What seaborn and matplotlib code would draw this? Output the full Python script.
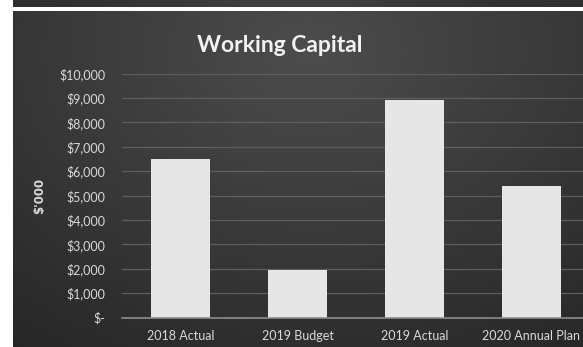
import numpy as np
import matplotlib
matplotlib.use("Agg")
import matplotlib.pyplot as plt
from matplotlib.ticker import FuncFormatter
import seaborn as sns

categories = ["2018 Actual", "2019 Budget", "2019 Actual", "2020 Annual Plan"]
values = [6500, 1950, 8900, 5400]
y_ticks = [0, 1000, 2000, 3000, 4000, 5000, 6000, 7000, 8000, 9000, 10000]

sns.set_theme(style="dark")
plt.rcParams["font.family"] = ["Lato", "DejaVu Sans"]

W, H = 583, 347
fig = plt.figure(figsize=(W / 100, H / 100), dpi=100, facecolor="white")

def box(x0, y0, x1, y1):
    # pixel box (top-left origin) to figure fraction rect
    return [x0 / W, 1 - y1 / H, (x1 - x0) / W, (y1 - y0) / H]

# dark radial-gradient panel behind the chart
bg = fig.add_axes(box(13, 11, W, H))
gx, gy = np.meshgrid(np.linspace(0, 1, 300), np.linspace(0, 1, 200))
r = np.sqrt(((gx - 0.52) / 1.0) ** 2 + ((gy - 0.12) / 1.25) ** 2)
shade = np.clip(0.30 - 0.17 * r, 0.14, 0.30)
bg.imshow(np.dstack([shade] * 3), aspect="auto", extent=(0, 1, 1, 0))
bg.set_axis_off()

# thin dark strip along the top
top = fig.add_axes(box(13, 0, W, 7))
tx = np.linspace(0, 1, 300)
tshade = 0.17 + 0.08 * np.exp(-((tx - 0.5) / 0.35) ** 2)
top.imshow(np.dstack([np.tile(tshade, (5, 1))] * 3), aspect="auto")
top.set_axis_off()

# plot area
spacing = 117.0
x_left = 122
ax = fig.add_axes(box(x_left, 73.5, W, 317.5))
ax.set_facecolor("none")
sns.barplot(x=categories, y=values, ax=ax, color="#e6e6e6", width=0.5,
            saturation=1, edgecolor="none", zorder=3)
ax.set_xlim(-0.5, -0.5 + (W - x_left) / spacing)
ax.set_ylim(0, 10000)
ax.set_yticks(y_ticks)
ax.yaxis.set_major_formatter(FuncFormatter(lambda v, _: "$-" if v == 0 else f"${v:,.0f}"))
ax.grid(axis="y", color="#5e5e5e", linewidth=0.9, zorder=0)
ax.grid(axis="x", visible=False)
for s in ["top", "right", "left"]:
    ax.spines[s].set_visible(False)
ax.spines["bottom"].set_color("#8c8c8c")
ax.spines["bottom"].set_linewidth(1.2)
ax.spines["bottom"].set_zorder(4)
ax.tick_params(axis="y", length=0, pad=12, labelsize=9, labelcolor="#d9d9d9")
ax.tick_params(axis="x", length=0, pad=9, labelsize=9, labelcolor="#d9d9d9")
ax.set_xlabel("")
ax.set_ylabel("$'000", fontsize=8.5, fontweight="bold", color="#d9d9d9", labelpad=0,
              family=["DejaVu Sans"])
ax.yaxis.set_label_coords((46 - x_left) / (W - x_left), (317.5 - 196) / 244)

fig.text(279.5 / W, 1 - 45 / H, "Working Capital", ha="center", va="center",
         fontsize=16.5, fontweight="bold", color="#f2f2f2")

fig.savefig("out.png", dpi=100, facecolor="white")
